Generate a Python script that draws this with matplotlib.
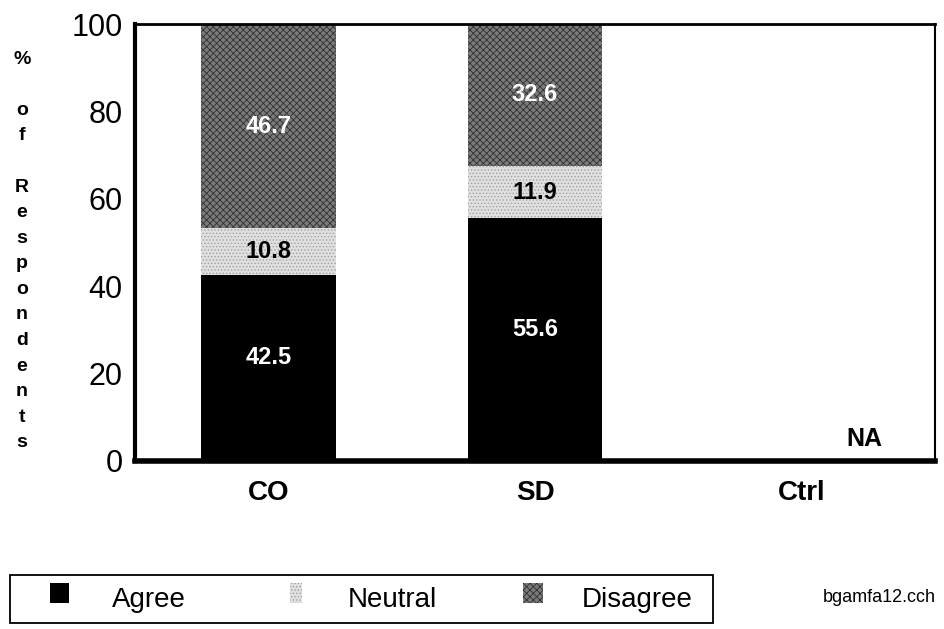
import numpy as np
import matplotlib
matplotlib.use('Agg')
import matplotlib.pyplot as plt
from matplotlib.patches import Rectangle

plt.rcParams['font.family'] = ['Liberation Sans', 'DejaVu Sans']
plt.rcParams['hatch.linewidth'] = 0.6

groups = ['CO', 'SD', 'Ctrl']
agree = [42.5, 55.6, 0]
neutral = [10.8, 11.9, 0]
disagree = [46.7, 32.6, 0]
yticks = [0, 20, 40, 60, 80, 100]
labels = ['Agree', 'Neutral', 'Disagree']

# fill styles for the three answers
styles = [dict(facecolor='black', edgecolor='black', hatch=None),
          dict(facecolor='#e0e0e0', edgecolor='#a0a0a0', hatch='.....'),
          dict(facecolor='#7a7a7a', edgecolor='#303030', hatch='xxxxx')]

fig = plt.figure(figsize=(9.44, 6.29), dpi=100)
ax = fig.add_axes([135/944, 1-461/629, 800/944, 437/629])

x = np.arange(len(groups))
w = 0.506
agree = np.array(agree)
neutral = np.array(neutral)
disagree = np.array(disagree)

ax.bar(x, agree, w, linewidth=0, **styles[0])
ax.bar(x, neutral, w, bottom=agree, linewidth=0, **styles[1])
ax.bar(x, disagree, w, bottom=agree+neutral, linewidth=0, **styles[2])

for i in range(2):
    ax.text(x[i], agree[i]/2 + 2.4, f'{agree[i]:.1f}', ha='center', va='center',
            color='white', fontsize=17, fontweight='bold')
    ax.text(x[i], agree[i] + neutral[i]/2, f'{neutral[i]:.1f}', ha='center', va='center',
            color='black', fontsize=17, fontweight='bold')
    ax.text(x[i], agree[i] + neutral[i] + disagree[i]/2, f'{disagree[i]:.1f}', ha='center',
            va='center', color='white', fontsize=17, fontweight='bold')
ax.text(2.235, 5, 'NA', ha='center', va='center', fontsize=18, fontweight='bold')

ax.set_xlim(-0.5, 2.5)
ax.set_ylim(0, 100)
ax.set_yticks(yticks)
ax.set_yticklabels([str(t) for t in yticks], fontsize=22)
ax.set_xticks(x)
ax.set_xticklabels(groups, fontsize=20, fontweight='bold')
ax.tick_params(length=0, axis='both')
ax.tick_params(axis='y', pad=9)
ax.tick_params(axis='x', pad=14)
ax.spines['left'].set_linewidth(3)
ax.spines['bottom'].set_linewidth(4)
ax.spines['top'].set_linewidth(2)
ax.spines['right'].set_linewidth(1.5)

ylab = '%\n\no\nf\n\nR\ne\ns\np\no\nn\nd\ne\nn\nt\ns'
fig.text(22/944, 1-251/629, ylab, ha='center', va='center', fontsize=14,
         fontweight='bold', linespacing=1.66)

# legend box drawn by hand
W, H = 944, 629
fig.patches.append(Rectangle((10/W, 1-623/H), 703/W, 48/H, transform=fig.transFigure,
                             fill=False, edgecolor='black', linewidth=1.3))
sq_x = [50, 290, 523]
sq_w = [19, 12, 20]
txt_x = [112, 348, 582]
for k in range(3):
    fig.patches.append(Rectangle((sq_x[k]/W, 1-603/H), sq_w[k]/W, 20/H,
                                 transform=fig.transFigure, linewidth=0, **styles[k]))
    fig.text(txt_x[k]/W, 1-600/H, labels[k], ha='left', va='center', fontsize=20)

fig.text(879/W, 1-597/H, 'bgamfa12.cch', ha='center', va='center', fontsize=13)

plt.savefig('out.png', dpi=100)
